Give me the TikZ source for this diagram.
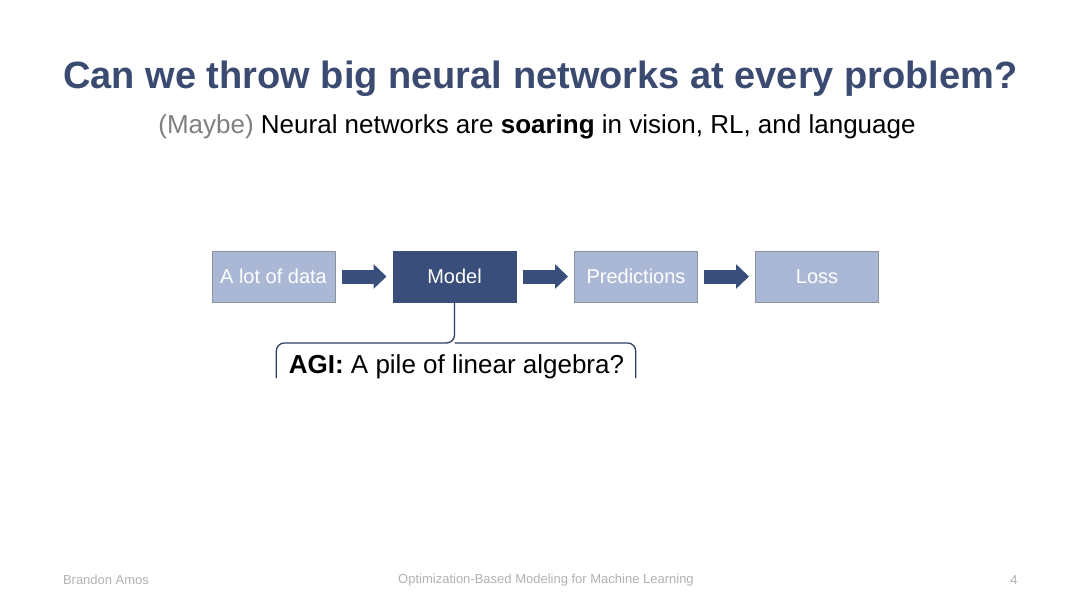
\documentclass[tikz,border=0pt]{standalone}
\usepackage{fontspec}
\setmainfont{Liberation Sans}
\usetikzlibrary{arrows.meta}

\definecolor{titleblue}{HTML}{3B4A70}
\definecolor{modelblue}{HTML}{3A4E7B}
\definecolor{paleblue}{HTML}{AAB8D5}
\definecolor{boxedge}{HTML}{8C93A0}

\tikzset{
  stage/.style={draw=boxedge, line width=1pt, fill=paleblue, text=white,
    minimum width=123pt, minimum height=51pt, font=\fontsize{20}{22}\selectfont},
  flow/.style={modelblue, line width=14pt, shorten <=6pt, shorten >=6pt,
    -{Triangle[length=13pt,width=24pt]}},
  footnote/.style={gray!60, font=\fontsize{13}{15}\selectfont}
}

\begin{document}
\begin{tikzpicture}[x=1pt, y=-1pt]
\useasboundingbox[fill=white] (0,0) rectangle (1080,608);

% Title and subtitle
\node[titleblue, font=\fontsize{38}{42}\selectfont\bfseries] (title) at (540.5,79) {Can we throw big neural networks at every problem?};
\node[font=\fontsize{26}{30}\selectfont] (sub) at (537,127) {\textcolor{gray}{(Maybe)} Neural networks are \textbf{soaring} in vision, RL, and language};

% The pipeline
\node[stage] (data) at (273.5,276.5) {A lot of data};
\node[stage, fill=modelblue, draw=modelblue] (model) at (454.5,276.5) {Model};
\node[stage] (pred) at (636,276.5) {Predictions};
\node[stage] (loss) at (817,276.5) {Loss};
\draw[flow] (data) -- (model);
\draw[flow] (model) -- (pred);
\draw[flow] (pred) -- (loss);

% Brace under the model
\node[font=\fontsize{26}{30}\selectfont] (agi) at (456.5,367) {\textbf{AGI:} A pile of linear algebra?};
\coordinate (braceL) at ([xshift=-9pt, yshift=-11pt]agi.west);
\coordinate (braceR) at ([xshift=8pt, yshift=-11pt]agi.east);
\draw[modelblue!80!black, line width=1.3pt, rounded corners=8pt]
  (braceL) |- (model.south |- 0,343) -- (model.south)
  (braceR) |- (model.south |- 0,343);

% Footer
\node[footnote] (author) at (106,580) {Brandon Amos};
\node[footnote] (talk) at (546,580) {Optimization-Based Modeling for Machine Learning};
\node[footnote] (page) at (1014,580) {4};
\end{tikzpicture}
\end{document}
